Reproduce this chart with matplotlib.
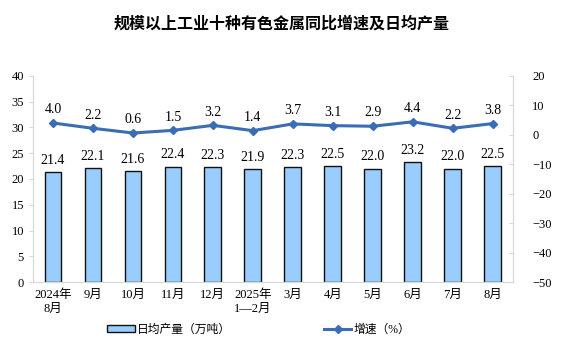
import matplotlib.pyplot as plt
import numpy as np

plt.rcParams['font.family'] = ['Liberation Serif', 'Noto Sans CJK SC']

months = ['2024年\n8月', '9月', '10月', '11月', '12月', '2025年\n1—2月',
          '3月', '4月', '5月', '6月', '7月', '8月']
output = [21.4, 22.1, 21.6, 22.4, 22.3, 21.9, 22.3, 22.5, 22.0, 23.2, 22.0, 22.5]
growth = [4.0, 2.2, 0.6, 1.5, 3.2, 1.4, 3.7, 3.1, 2.9, 4.4, 2.2, 3.8]

fig = plt.figure(figsize=(5.63, 3.63), dpi=100)
ax = fig.add_axes([0.0586, 0.223, 0.852, 0.568])
ax2 = ax.twinx()

x = np.arange(len(months))
bars = ax.bar(x, output, width=0.42, color='#99ccff', edgecolor='#111111',
              linewidth=1.0, label='日均产量（万吨）', zorder=2)
for xi, v in zip(x, output):
    ax.text(xi, v + 1.0, f'{v:.1f}', ha='center', va='bottom', fontsize=10)

ax.set_ylim(0, 40)
ax.set_yticks(range(0, 41, 5))
ax.set_xlim(-0.5, len(months) - 0.5)
ax.set_xticks(x)
ax.set_xticklabels(months, fontsize=7.5)

line, = ax2.plot(x, growth, color='#3a6db3', linewidth=2.2, marker='D',
                 markersize=4.5, label='增速（%）', zorder=3)
for xi, v in zip(x, growth):
    ax2.text(xi, v + 2.3, f'{v:.1f}', ha='center', va='bottom', fontsize=10)
ax2.set_ylim(-50, 20)
ax2.set_yticks(range(-50, 21, 10))

for a in (ax, ax2):
    for s in a.spines.values():
        s.set_color('#d9d9d9')
    a.spines['top'].set_visible(False)
    a.tick_params(labelsize=9, colors='#d9d9d9', labelcolor='black', length=3)
ax.tick_params(axis='x', length=0, pad=5)
ax2.tick_params(axis='y', direction='in', pad=14)

fig.text(0.5, 0.935, '规模以上工业十种有色金属同比增速及日均产量',
         ha='center', va='center', fontsize=11.5, fontweight='bold',
         family=['Noto Sans CJK SC'])

fig.legend([bars, line], ['日均产量（万吨）', '增速（%）'], loc='center',
           bbox_to_anchor=(0.46, 0.091), ncol=2, frameon=False, fontsize=8.5,
           columnspacing=7.9, handlelength=2.3, handletextpad=0.2,
           handleheight=0.5)

fig.savefig('out.png', dpi=100)
